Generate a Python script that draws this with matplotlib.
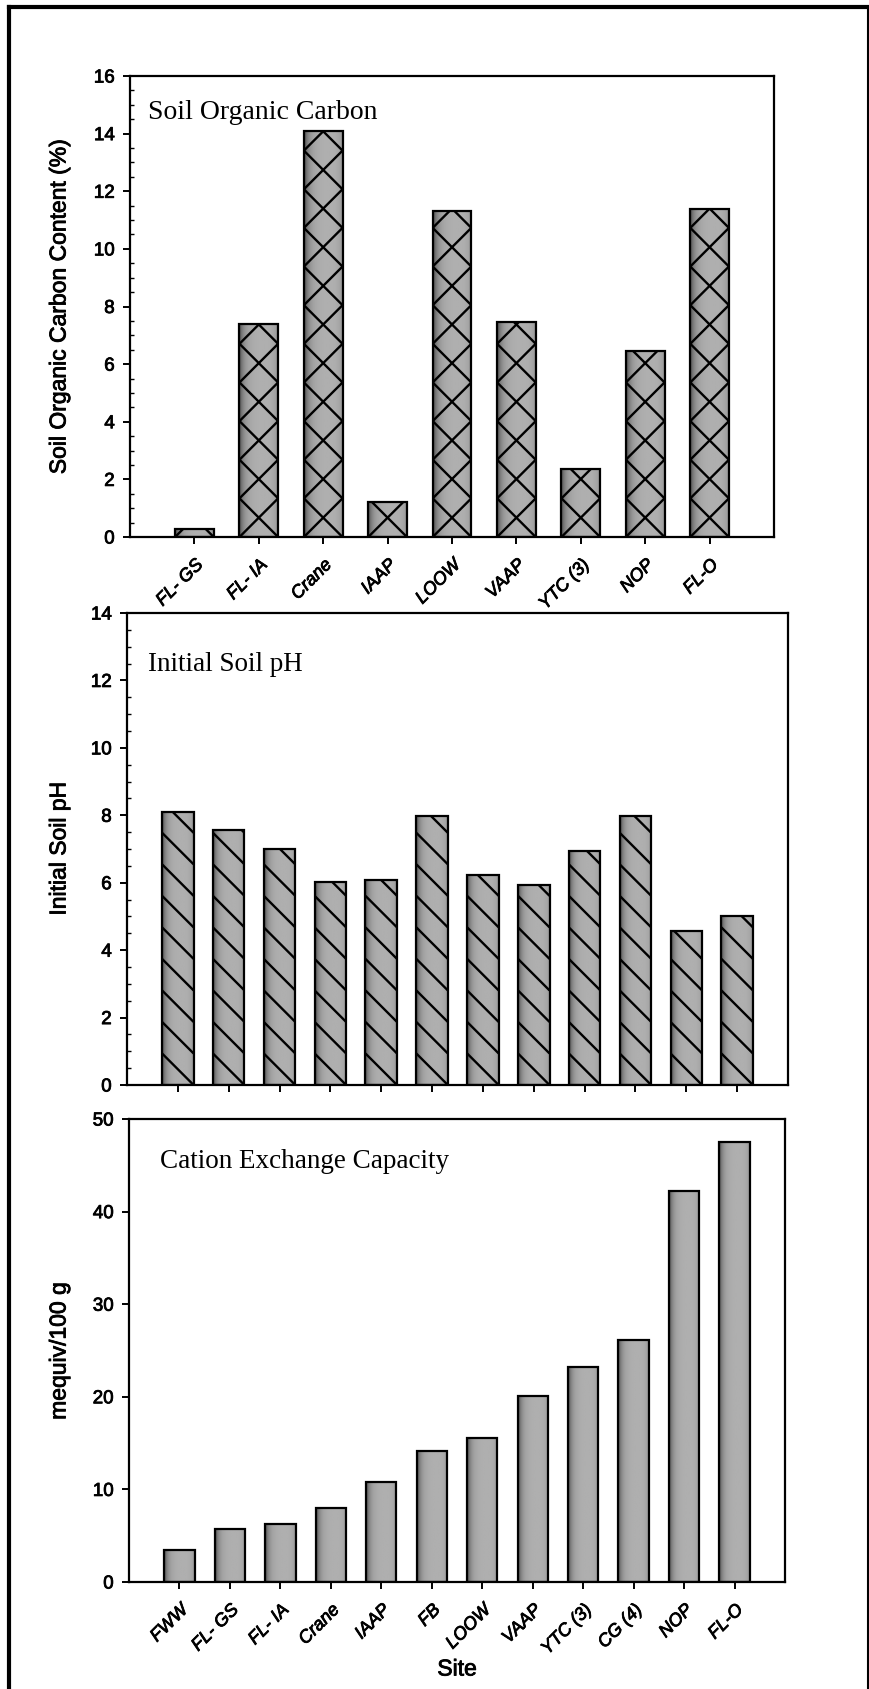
import numpy as np
import matplotlib
matplotlib.use("Agg")
import matplotlib.pyplot as plt
from matplotlib.lines import Line2D
from matplotlib.ticker import MultipleLocator
import matplotlib.transforms as mtrans
import matplotlib.patheffects as pe

plt.rcParams['font.family'] = ['Liberation Sans', 'DejaVu Sans']

# --- data ---
soc_sites = ['FL- GS', 'FL- IA', 'Crane', 'IAAP', 'LOOW', 'VAAP', 'YTC (3)', 'NOP', 'FL-O']
soc_values = [0.28, 7.4, 14.1, 1.2, 11.3, 7.47, 2.35, 6.45, 11.37]

site_names = ['FWW', 'FL- GS', 'FL- IA', 'Crane', 'IAAP', 'FB', 'LOOW', 'VAAP',
              'YTC (3)', 'CG (4)', 'NOP', 'FL-O']
ph_values = [8.1, 7.56, 7.01, 6.02, 6.09, 7.98, 6.24, 5.94, 6.93, 7.98, 4.58, 5.02]
cec_values = [3.5, 5.75, 6.3, 8.0, 10.8, 14.1, 15.5, 20.05, 23.2, 26.15, 42.25, 47.55]

W, H = 870, 1690
THICK = [pe.withStroke(linewidth=0.6, foreground='black')]

fig = plt.figure(figsize=(W / 100, H / 100), dpi=100)

# shading across a bar: dark left edge, lighter middle (scanned stipple look)
t = np.linspace(0, 1, 60)
shade = 0.69 - 0.4 * np.exp(-t / 0.12) - 0.12 * np.exp(-(1 - t) / 0.08)
shade = shade[None, :]


# axes placed by pixel edges
def axes_px(l, t, r, b):
    return fig.add_axes([l / W, 1 - b / H, (r - l) / W, (b - t) / H])


def draw_bars(ax, x, vals, width):
    bars = ax.bar(x, vals, width=width, color='#a0a0a0', edgecolor='none', zorder=2)
    for bar in bars:
        im = ax.imshow(shade, extent=[bar.get_x(), bar.get_x() + bar.get_width(),
                                      0, bar.get_height()],
                       aspect='auto', cmap='gray', vmin=0, vmax=1, zorder=2.5)
        im.set_clip_path(bar)
    ax.bar(x, vals, width=width, fill=False, edgecolor='black', linewidth=1.6, zorder=4)
    return bars


# draw diagonal lines inside each bar (pixel space), slopes given as list of +1/-1
def hatch_bars(ax, bars, slopes):
    inv = ax.transData.inverted()
    for bar in bars:
        (x0, y0), (x1, y1) = ax.transData.transform(
            [(bar.get_x(), 0), (bar.get_x() + bar.get_width(), bar.get_height())])
        w = x1 - x0
        n = int(np.ceil((y1 - y0) / w)) + 2
        for s in slopes:
            for k in range(-2, n + 1):
                ya = y0 + k * w
                yb = ya + s * w
                pts = inv.transform([(x0, ya), (x1, yb)])
                ln, = ax.plot(pts[:, 0], pts[:, 1], color='black', lw=1.7,
                              solid_capstyle='butt', zorder=3)
                ln.set_clip_path(bar)


def style_axes(ax, ymax, ystep, minor):
    ax.set_ylim(0, ymax)
    ax.yaxis.set_major_locator(MultipleLocator(ystep))
    if minor:
        ax.yaxis.set_minor_locator(MultipleLocator(minor))
    for sp in ax.spines.values():
        sp.set_linewidth(1.6)
    ax.tick_params(axis='both', which='major', direction='out', length=5,
                   width=1.4, labelsize=13.5, pad=6)
    ax.tick_params(axis='y', which='minor', direction='in', length=3, width=1)
    ax.tick_params(axis='x', which='minor', bottom=False)
    for lab in ax.get_yticklabels():
        lab.set_path_effects(THICK)


def xlabels(ax, labels):
    ax.set_xticklabels(labels, rotation=45, ha='right', va='top',
                       rotation_mode='anchor', fontsize=13, style='italic')
    offset = mtrans.ScaledTranslation(3 / 100, 0, fig.dpi_scale_trans)
    for lab in ax.get_xticklabels():
        lab.set_transform(lab.get_transform() + offset)
        lab.set_path_effects(THICK)


# ---------- Soil Organic Carbon ----------
ax1 = axes_px(130, 77, 774, 538)
x1 = np.arange(len(soc_sites))
style_axes(ax1, 16, 2, 0.5)
bars1 = draw_bars(ax1, x1, soc_values, 0.6)
ax1.set_xlim(-1, len(soc_sites))
ax1.set_ylim(0, 16)
ax1.set_xticks(x1)
xlabels(ax1, soc_sites)
ax1.tick_params(axis='x', pad=9)
hatch_bars(ax1, bars1, [1, -1])
ax1.text(0.028, 0.909, 'Soil Organic Carbon', transform=ax1.transAxes,
         family='Liberation Serif', fontsize=20, va='baseline')

# ---------- Initial Soil pH ----------
ax2 = axes_px(127, 614, 788, 1086)
x2 = np.arange(len(site_names))
style_axes(ax2, 14, 2, 0.5)
bars2 = draw_bars(ax2, x2, ph_values, 0.62)
ax2.set_xlim(-1, len(site_names))
ax2.set_ylim(0, 14)
ax2.set_xticks(x2)
ax2.set_xticklabels([])
hatch_bars(ax2, bars2, [-1])
ax2.text(0.032, 0.879, 'Initial Soil pH', transform=ax2.transAxes,
         family='Liberation Serif', fontsize=19.5, va='baseline')

# ---------- Cation Exchange Capacity ----------
ax3 = axes_px(129, 1120, 785, 1583)
style_axes(ax3, 50, 10, None)
draw_bars(ax3, x2, cec_values, 0.6)
ax3.set_xlim(-1, len(site_names))
ax3.set_ylim(0, 50)
ax3.set_xticks(x2)
xlabels(ax3, site_names)
ax3.tick_params(axis='x', pad=9)
ax3.text(0.047, 0.896, 'Cation Exchange Capacity', transform=ax3.transAxes,
         family='Liberation Serif', fontsize=19.5, va='baseline')

# y labels and x label, placed in figure pixels
for ypx, txt in [(308, 'Soil Organic Carbon Content (%)'), (850, 'Initial Soil pH'),
                 (1352, 'mequiv/100 g')]:
    fig.text(59 / W, 1 - ypx / H, txt, rotation=90, ha='center', va='center',
             fontsize=16.5, path_effects=THICK)
fig.text(457 / W, 1 - 1670 / H, 'Site', ha='center', va='center', fontsize=16.5,
         path_effects=THICK)

# page frame
fig.add_artist(Line2D([9 / W, 9 / W], [0, 1 - 8 / H], color='black', lw=3,
                      transform=fig.transFigure))
fig.add_artist(Line2D([9 / W, 1], [1 - 8 / H, 1 - 8 / H], color='black', lw=3,
                      transform=fig.transFigure))
fig.add_artist(Line2D([1 - 2 / W, 1 - 2 / W], [0, 1 - 8 / H], color='black', lw=1.5,
                      transform=fig.transFigure))

fig.savefig('out.png', dpi=100)
